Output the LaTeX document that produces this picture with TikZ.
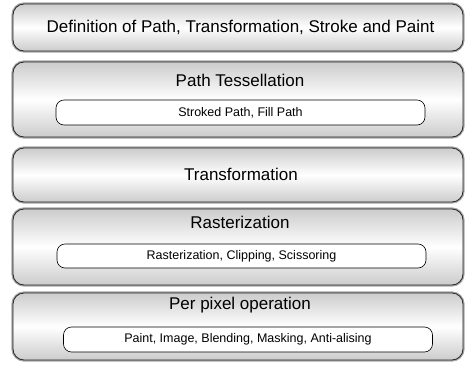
\documentclass[tikz,border=0pt]{standalone}
\usepackage{fontspec}
\setmainfont{Liberation Sans}
\tikzset{
	stagebox/.style={rectangle, rounded corners=11pt, minimum width=450pt, inner sep=0pt,
		draw=black!85, line width=0.8pt, top color=black!20, bottom color=black!20, middle color=white,
		preaction={draw=black!35, line width=3.2pt}},
	opbox/.style={rectangle, rounded corners=8pt, minimum width=369pt, minimum height=25pt, inner sep=0pt,
		draw=black, line width=0.6pt, fill=white, font=\fontsize{12.5}{14}\selectfont},
	stagetext/.style={inner sep=0pt, font=\fontsize{17}{19}\selectfont}
}

\begin{document}
\begin{tikzpicture}[x=1pt, y=-1pt]
			%%%%% START %%%%%
			\useasboundingbox (0, 0) rectangle (467, 365);
			
			\node[stagebox, minimum height=47pt] (defbox) at (238, 27.5) {};
			\node[stagetext] (deftitle) at (240.5, 27) {Definition of Path, Transformation, Stroke and Paint};
			
			\node[stagebox, minimum height=75pt] (tessbox) at (238, 99.5) {};
			\node[stagetext] (tesstitle) at (240, 80) {Path Tessellation};
			\node[opbox] (tessop) at (240.5, 112.5) {Stroked Path, Fill Path};
			
			\node[stagebox, minimum height=54pt] (transbox) at (238, 175) {};
			\node[stagetext] (transtitle) at (241, 174) {Transformation};
			
			\node[stagebox, minimum height=76pt] (rastbox) at (238, 247) {};
			\node[stagetext] (rasttitle) at (240, 222) {Rasterization};
			\node[opbox, minimum height=24pt] (rastop) at (241.5, 256) {Rasterization, Clipping, Scissoring};
			
			\node[stagebox, minimum height=67pt] (pixbox) at (238, 326.5) {};
			\node[stagetext] (pixtitle) at (240, 305) {Per pixel operation};
			\node[opbox] (pixop) at (248, 339.5) {Paint, Image, Blending, Masking, Anti-alising};
			%%%%% END %%%%%
\end{tikzpicture}
\end{document}
